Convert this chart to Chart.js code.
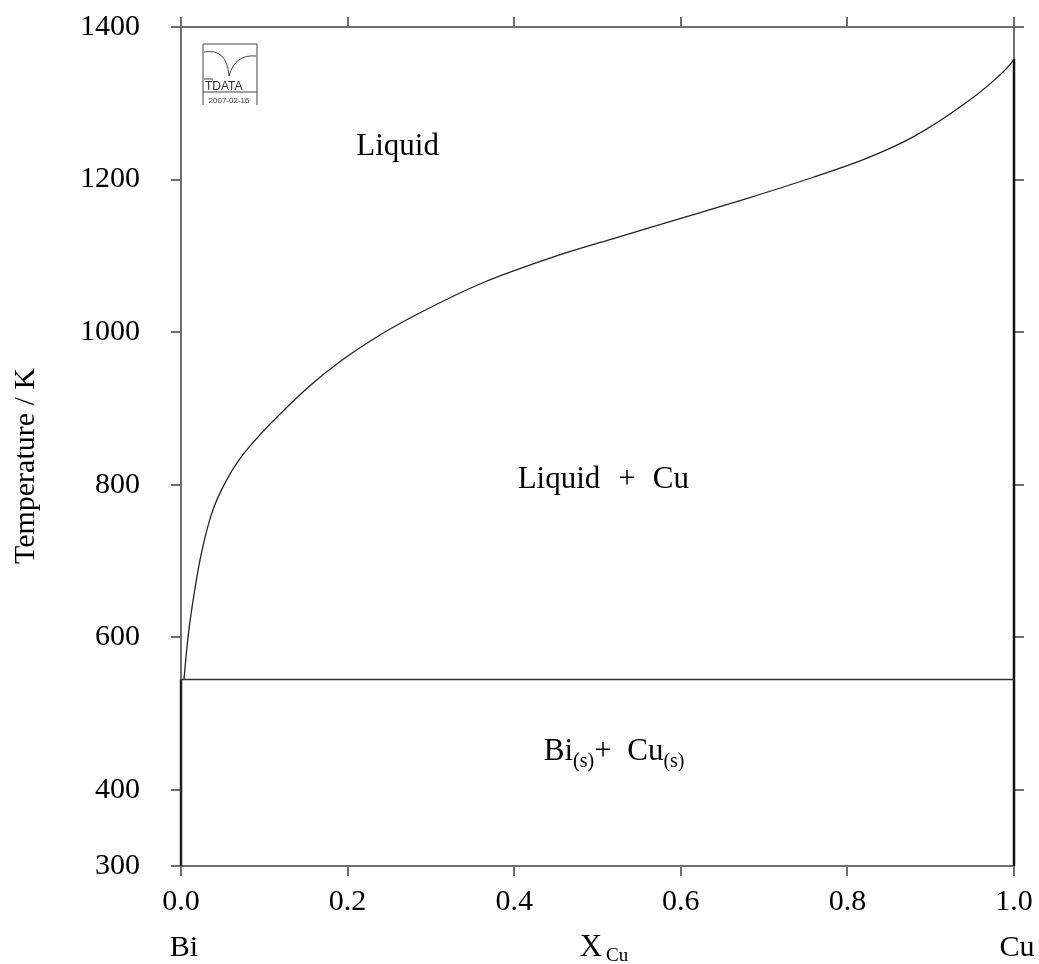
<!DOCTYPE html>
<html>
<head>
<meta charset="utf-8">
<script src="https://cdn.jsdelivr.net/npm/chart.js@4.4.1/dist/chart.umd.min.js"></script>
<style>
  html, body { margin: 0; padding: 0; background: #fff; }
  #wrap { width: 1039px; height: 964px; position: relative; }
</style>
</head>
<body>
<div id="wrap"><canvas id="chart"></canvas></div>
<script>
// Liquidus of Bi-Cu: mole fraction Cu -> temperature (K)
const LIQUIDUS_X = [0.0036, 0.0065, 0.0095, 0.0128, 0.0228, 0.0368, 0.0568, 0.0728, 0.0928, 0.113,
  0.153, 0.193, 0.234, 0.283, 0.363, 0.443, 0.523, 0.6, 0.679, 0.759, 0.819, 0.879, 0.939, 0.979, 0.999, 1.0];
const LIQUIDUS_T = [545, 580, 610, 636, 701, 762, 810, 837, 863, 886,
  928, 963, 993, 1023, 1065, 1097, 1124, 1149, 1175, 1203, 1226, 1256, 1298, 1333, 1356, 1357.8];

const EUTECTIC_X = [0, 1];
const EUTECTIC_T = [544.5, 544.5];
const BI_SOLID_X = [0, 0];
const BI_SOLID_T = [300, 544.5];
const CU_SOLID_X = [1, 1];
const CU_SOLID_T = [300, 1357.8];

const X_TICKS = [0, 0.2, 0.4, 0.6, 0.8, 1.0];
const Y_TICKS = [300, 400, 600, 800, 1000, 1200, 1400];
const Y_TICKS_RIGHT = [400, 600, 800, 1000, 1200, 1400];

const SERIF = "'Liberation Serif', 'Times New Roman', serif";
const AXIS_GRAY = "#6e6e6e";

function pts(xs, ys) {
  return xs.map((x, i) => ({ x, y: ys[i] }));
}

function lineSet(xs, ys, width, color) {
  return {
    data: pts(xs, ys),
    showLine: true,
    borderColor: color,
    borderWidth: width,
    pointRadius: 0,
    fill: false,
    clip: false,
  };
}

/** Draws a run of text pieces (some as subscripts) centred on cx. */
function drawRun(ctx, pieces, cx, baseY) {
  let total = 0;
  pieces.forEach((p) => {
    ctx.font = `${p.size}px ${SERIF}`;
    p.w = ctx.measureText(p.t).width + (p.gap || 0);
    total += p.w;
  });
  let x = cx - total / 2;
  ctx.textAlign = "left";
  ctx.textBaseline = "alphabetic";
  pieces.forEach((p) => {
    ctx.font = `${p.size}px ${SERIF}`;
    ctx.fillText(p.t, x, baseY + (p.dy || 0));
    x += p.w;
  });
}

const labelsPlugin = {
  id: "phaseLabels",
  afterDraw(chart) {
    const { ctx, chartArea } = chart;
    const xs = chart.scales.x;
    const ys = chart.scales.y;
    ctx.save();
    ctx.fillStyle = "#000";

    // phase field labels at data coordinates
    drawRun(ctx, [{ t: "Liquid", size: 31 }], xs.getPixelForValue(0.26), ys.getPixelForValue(1232));
    drawRun(ctx, [
      { t: "Liquid", size: 31, gap: 18 },
      { t: "+", size: 31, gap: 17 },
      { t: "Cu", size: 31 },
    ], xs.getPixelForValue(0.507), ys.getPixelForValue(796));
    drawRun(ctx, [
      { t: "Bi", size: 31 },
      { t: "(s)", size: 20, dy: 7 },
      { t: "+  Cu", size: 31 },
      { t: "(s)", size: 20, dy: 7 },
    ], xs.getPixelForValue(0.52), ys.getPixelForValue(439));

    // y axis title
    ctx.save();
    ctx.translate(34, 466);
    ctx.rotate(-Math.PI / 2);
    drawRun(ctx, [{ t: "Temperature / K", size: 30 }], 0, 0);
    ctx.restore();

    // bottom labels
    const by = chartArea.bottom + 90;
    drawRun(ctx, [{ t: "Bi", size: 30 }], chartArea.left + 3, by);
    drawRun(ctx, [{ t: "Cu", size: 30 }], chartArea.right + 3, by);
    drawRun(ctx, [{ t: "X", size: 31, gap: 4 }, { t: "Cu", size: 19, dy: 5 }], 604, by);

    // TDATA logo
    const lx = 203, ly = 44;
    ctx.strokeStyle = "#444";
    ctx.lineWidth = 1;
    ctx.beginPath();
    ctx.moveTo(lx, ly + 61); ctx.lineTo(lx, ly); ctx.lineTo(lx + 54, ly); ctx.lineTo(lx + 54, ly + 61);
    ctx.moveTo(lx, ly + 48); ctx.lineTo(lx + 54, ly + 48);
    ctx.stroke();
    ctx.beginPath();
    ctx.moveTo(lx + 1, ly + 8);
    ctx.quadraticCurveTo(lx + 24, ly + 4, lx + 26, ly + 32);
    ctx.quadraticCurveTo(lx + 32, ly + 10, lx + 53, ly + 12);
    ctx.moveTo(lx + 1, ly + 35); ctx.lineTo(lx + 10, ly + 35);
    ctx.stroke();
    ctx.font = `12px 'Liberation Sans', Arial, sans-serif`;
    ctx.textAlign = "left";
    ctx.textBaseline = "alphabetic";
    ctx.fillStyle = "#333";
    ctx.fillText("TDATA", lx + 2, ly + 46);
    ctx.font = `8px 'Liberation Sans', Arial, sans-serif`;
    ctx.textAlign = "center";
    ctx.fillText("2007-02-16", lx + 26, ly + 59);
    ctx.restore();
  },
};

function fixTicks(list) {
  return (scale) => {
    scale.ticks = list.map((v) => ({ value: v }));
  };
}

function fitBox(prop, size) {
  return (s) => {
    s[prop] = size;
    s.paddingTop = 0;
    s.paddingBottom = 0;
    s.paddingLeft = 0;
    s.paddingRight = 0;
  };
}

const gridOpts = {
  drawOnChartArea: false,
  drawTicks: true,
  tickLength: 10,
  color: AXIS_GRAY,
  lineWidth: 2,
};
const borderOpts = { display: true, color: AXIS_GRAY, width: 2 };

new Chart(document.getElementById("chart"), {
  type: "scatter",
  data: {
    datasets: [
      lineSet(EUTECTIC_X, EUTECTIC_T, 1.5, "#333"),
      lineSet(BI_SOLID_X, BI_SOLID_T, 2.5, "#222"),
      lineSet(CU_SOLID_X, CU_SOLID_T, 2.5, "#111"),
      Object.assign(lineSet(LIQUIDUS_X, LIQUIDUS_T, 1.3, "#222"), { cubicInterpolationMode: "monotone" }),
    ],
  },
  options: {
    responsive: true,
    maintainAspectRatio: false,
    animation: false,
    layout: { padding: 0 },
    plugins: {
      legend: { display: false },
      tooltip: { enabled: false },
    },
    scales: {
      x: {
        type: "linear",
        position: "bottom",
        min: 0,
        max: 1,
        afterBuildTicks: fixTicks(X_TICKS),
        afterFit: fitBox("height", 98),
        ticks: {
          color: "#000",
          font: { family: SERIF, size: 30 },
          padding: 8,
          maxRotation: 0,
          callback: (v) => Number(v).toFixed(1),
        },
        grid: gridOpts,
        border: borderOpts,
      },
      x2: {
        type: "linear",
        position: "top",
        min: 0,
        max: 1,
        afterBuildTicks: fixTicks(X_TICKS),
        afterFit: fitBox("height", 27),
        ticks: { display: false },
        grid: gridOpts,
        border: borderOpts,
      },
      y: {
        type: "linear",
        position: "left",
        min: 300,
        max: 1400,
        afterBuildTicks: fixTicks(Y_TICKS),
        afterFit: fitBox("width", 181),
        ticks: {
          color: "#000",
          font: { family: SERIF, size: 30 },
          padding: 31,
          callback: (v) => String(v),
        },
        grid: gridOpts,
        border: borderOpts,
      },
      y2: {
        type: "linear",
        position: "right",
        min: 300,
        max: 1400,
        afterBuildTicks: fixTicks(Y_TICKS_RIGHT),
        afterFit: fitBox("width", 25),
        ticks: { display: false },
        grid: gridOpts,
        border: borderOpts,
      },
    },
  },
  plugins: [labelsPlugin],
});
</script>
</body>
</html>
